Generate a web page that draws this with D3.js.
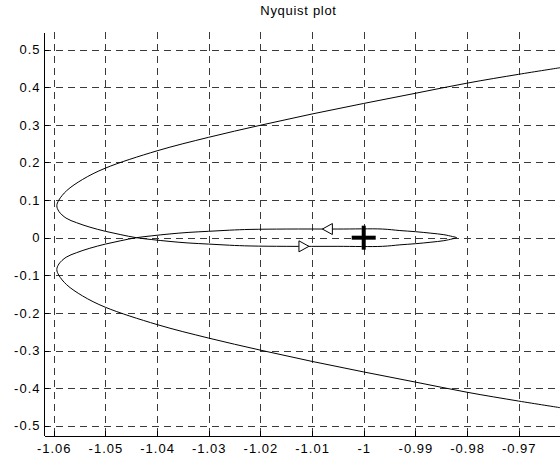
<!DOCTYPE html>
<html>
<head>
<meta charset="utf-8">
<script src="https://cdn.jsdelivr.net/npm/d3@7/dist/d3.min.js"></script>
<style>
  html, body { margin: 0; padding: 0; background: #fff; }
  svg { display: block; font-family: "Liberation Sans", Arial, sans-serif; }
</style>
</head>
<body>
<svg id="chart" width="560" height="457"></svg>
<script>
// Nyquist locus, positive-frequency half: [real, imag], from the high-gain end to the tip of the inner loop
const locusRe = [-0.9620, -0.970, -0.980, -0.990, -1.000, -1.010, -1.020, -1.030, -1.040, -1.050,
                 -1.0544, -1.0575, -1.0590, -1.0594, -1.0590, -1.0576, -1.0556, -1.0530, -1.0500, -1.0470,
                 -1.0440, -1.0410, -1.0375, -1.0340, -1.0300, -1.0260, -1.0220, -1.0150, -1.0050, -0.9964,
                 -0.9930, -0.9900, -0.9870, -0.9845, -0.9828, -0.9820];
const locusIm = [0.452, 0.4345, 0.411, 0.384, 0.357, 0.329, 0.299, 0.267, 0.231, 0.185,
                 0.155, 0.125, 0.100, 0.085, 0.070, 0.052, 0.040, 0.028, 0.017, 0.008,
                 0.000, -0.005, -0.010, -0.014, -0.017, -0.020, -0.022, -0.023, -0.023, -0.023,
                 -0.019, -0.016, -0.012, -0.008, -0.003, 0.000];

// Direction arrows on the inner loop: [real, imag, direction (+1 right, -1 left)]
const arrowRe = [-1.0080, -1.0106];
const arrowIm = [0.023, -0.023];
const arrowDir = [-1, 1];

// Critical point
const criticalPoint = [-1, 0];

// Axis ticks
const xTicks = [-1.06, -1.05, -1.04, -1.03, -1.02, -1.01, -1, -0.99, -0.98, -0.97];
const xTickLabels = ["-1.06", "-1.05", "-1.04", "-1.03", "-1.02", "-1.01", "-1", "-0.99", "-0.98", "-0.97"];
const yTicks = [0.5, 0.4, 0.3, 0.2, 0.1, 0, -0.1, -0.2, -0.3, -0.4, -0.5];
const yTickLabels = ["0.5", "0.4", "0.3", "0.2", "0.1", "0", "-0.1", "-0.2", "-0.3", "-0.4", "-0.5"];

const titleText = "Nyquist plot";

const svg = d3.select("#chart");
const plotLeft = 44, plotRight = 560, plotTop = 32, plotBottom = 435;

const x = d3.scaleLinear().domain([-1.06188, -0.96201]).range([plotLeft, plotRight]);
const y = d3.scaleLinear().domain([-0.5247, 0.547]).range([plotBottom, plotTop]);

// Grid
const grid = svg.append("g").attr("stroke", "#3a3a3a").attr("stroke-width", 1)
  .attr("stroke-dasharray", "7,5").attr("fill", "none").attr("shape-rendering", "crispEdges");
grid.selectAll("line.v").data(xTicks).join("line").attr("class", "v")
  .attr("x1", d => Math.round(x(d)) + 0.5).attr("x2", d => Math.round(x(d)) + 0.5)
  .attr("y1", plotTop).attr("y2", plotBottom);
grid.selectAll("line.h").data(yTicks).join("line").attr("class", "h")
  .attr("y1", d => Math.round(y(d)) + 0.5).attr("y2", d => Math.round(y(d)) + 0.5)
  .attr("x1", plotLeft).attr("x2", plotRight);

// Axes
const xAxis = d3.axisBottom(x).tickValues(xTicks).tickFormat((d, i) => xTickLabels[i])
  .tickSizeInner(-5).tickSizeOuter(0).tickPadding(8);
const yAxis = d3.axisLeft(y).tickValues(yTicks).tickFormat((d, i) => yTickLabels[i])
  .tickSizeInner(-5).tickSizeOuter(0).tickPadding(3);

const gx = svg.append("g").attr("transform", `translate(0,${plotBottom + 0.5})`).call(xAxis);
const gy = svg.append("g").attr("transform", `translate(${plotLeft - 0.5},0)`).call(yAxis);
[gx, gy].forEach(g => {
  g.selectAll("path.domain").attr("stroke", "#000").attr("shape-rendering", "crispEdges");
  g.selectAll(".tick line").attr("stroke", "#000").attr("shape-rendering", "crispEdges");
  g.selectAll("text").attr("fill", "#000").attr("font-size", "13px")
    .attr("letter-spacing", "1px")
    .attr("font-family", "'Liberation Sans', Arial, sans-serif");
});

// Nyquist locus: positive frequencies then mirrored negative frequencies
const half = locusRe.map((r, i) => [r, locusIm[i]]);
const mirror = half.slice(0, -1).reverse().map(([r, im]) => [r, -im]);
const full = half.concat(mirror);

const line = d3.line().x(d => x(d[0])).y(d => y(d[1])).curve(d3.curveCatmullRom.alpha(0.5));
svg.append("path").datum(full).attr("d", line)
  .attr("fill", "none").attr("stroke", "#000").attr("stroke-width", 1);

// Direction arrows (open triangles)
const arrows = arrowRe.map((r, i) => ({ r, im: arrowIm[i], dir: arrowDir[i] }));
svg.selectAll("path.arrow").data(arrows).join("path").attr("class", "arrow")
  .attr("d", d => {
    const px = x(d.r), py = y(d.im), w = 10, h = 5.5;
    return `M${px},${py} L${px - d.dir * w},${py - h} L${px - d.dir * w},${py + h} Z`;
  })
  .attr("fill", "#fff").attr("stroke", "#000").attr("stroke-width", 1);

// Critical point marker
const cx = x(criticalPoint[0]), cy = y(criticalPoint[1]);
const plus = svg.append("g").attr("stroke", "#000").attr("stroke-width", 4);
plus.append("line").attr("x1", cx - 12).attr("x2", cx + 12).attr("y1", cy).attr("y2", cy);
plus.append("line").attr("x1", cx).attr("x2", cx).attr("y1", cy - 12).attr("y2", cy + 12);

// Title
svg.append("text").attr("x", 298.5).attr("y", 15).attr("text-anchor", "middle")
  .attr("font-size", "13px").attr("letter-spacing", "0.7px").attr("fill", "#000").text(titleText);
</script>
</body>
</html>
